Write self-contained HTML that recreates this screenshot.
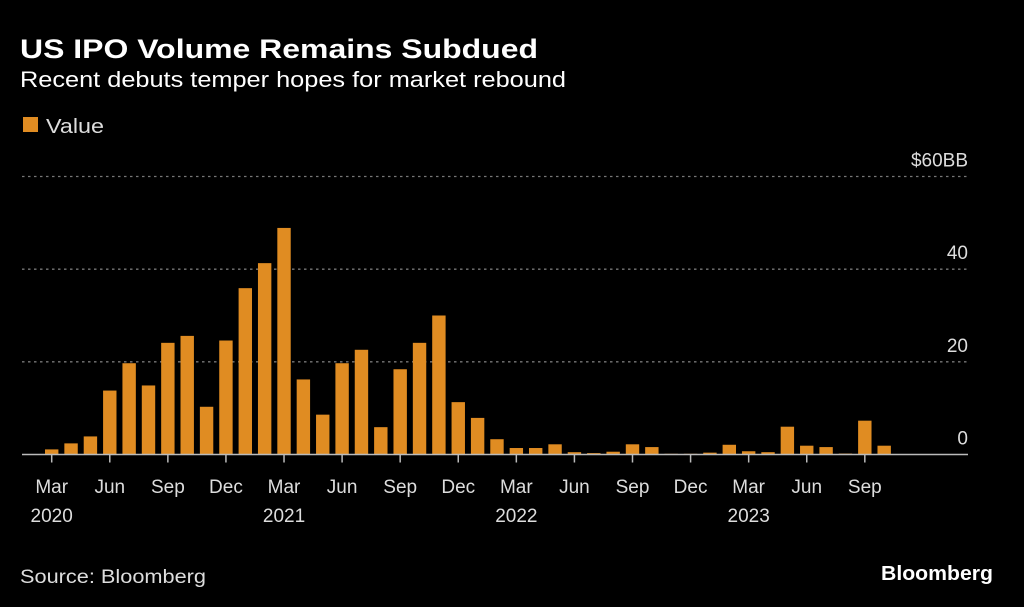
<!DOCTYPE html>
<html><head><meta charset="utf-8"><style>
html,body{margin:0;padding:0;background:#000;}
svg{display:block;font-family:"Liberation Sans",sans-serif;}
</style></head><body>
<svg id="chart" width="1024" height="607" viewBox="0 0 1024 607" xmlns="http://www.w3.org/2000/svg">
<rect width="1024" height="607" fill="#000"/>
<text x="20" y="58" fill="#fff" font-size="27" font-weight="bold" textLength="518" lengthAdjust="spacingAndGlyphs">US IPO Volume Remains Subdued</text>
<text x="20" y="87" fill="#fff" font-size="22" textLength="546" lengthAdjust="spacingAndGlyphs">Recent debuts temper hopes for market rebound</text>
<g>
<rect x="23" y="117" width="15" height="15" fill="#e08c22"/>
<text x="46" y="133" fill="#ddd" font-size="20" textLength="58" lengthAdjust="spacingAndGlyphs">Value</text>
</g>
<g id="grid"></g>
<g id="bars"></g>
<g id="xaxis"></g>
<text x="20" y="583" fill="#ddd" font-size="19" textLength="186" lengthAdjust="spacingAndGlyphs">Source: Bloomberg</text>
<text x="993" y="580" fill="#fff" font-size="20" font-weight="bold" text-anchor="end" textLength="112" lengthAdjust="spacingAndGlyphs">Bloomberg</text>
</svg>
<script>
const months = 44; // Mar 2020 .. Oct 2023
const values = [1.1,2.4,3.9,13.8,19.7,14.9,24.1,25.6,10.3,24.6,35.9,41.3,48.9,16.2,8.6,19.7,22.6,5.9,18.4,24.1,30.0,11.3,7.9,3.3,1.4,1.4,2.2,0.5,0.3,0.6,2.2,1.6,0.15,0.15,0.4,2.1,0.7,0.5,6.0,1.9,1.6,0.2,7.3,1.9];
const yTicks = [0,20,40,60];
const yTickLabels = ["0","20","40","$60BB"];
const xTickLabels = ["Mar","Jun","Sep","Dec","Mar","Jun","Sep","Dec","Mar","Jun","Sep","Dec","Mar","Jun","Sep"];
const yearLabels = ["2020","2021","2022","2023"];

const NS="http://www.w3.org/2000/svg";
const x0=51.7, step=19.36, barW=13.4;
const yBase=454.5, yTop=176.5, yMax=60;
function xPos(i){return x0+i*step;}
function yPos(v){return yBase-(v/yMax)*(yBase-yTop);}
function mk(tag,attrs,parent){const e=document.createElementNS(NS,tag);for(const k in attrs)e.setAttribute(k,attrs[k]);parent.appendChild(e);return e;}

const grid=document.getElementById('grid');
yTicks.forEach((t,i)=>{
  const y=yPos(t);
  if(t!==0){
    const l=mk('line',{x1:22,x2:968,y1:y,y2:y,stroke:'#777','stroke-width':1.3,'stroke-dasharray':'2.5,3.5'},grid);
    
    
  }
  const tx=mk('text',{x:968,y:y-10,fill:'#ddd','font-size':19,'text-anchor':'end'},grid);
  tx.textContent=yTickLabels[i];
  
  
});

const bars=document.getElementById('bars');
values.forEach((v,i)=>{
  const y=yPos(v);
  const r=mk('rect',{x:xPos(i)-barW/2,y:y,width:barW,height:Math.max(yBase-y,0.5),fill:'#e08c22'},bars);
  
  
});

const xa=document.getElementById('xaxis');
const ax=mk('line',{x1:22,x2:968,y1:yBase,y2:yBase,stroke:'#bbb','stroke-width':1.5},xa);


xTickLabels.forEach((lab,k)=>{
  const x=xPos(k*3);
  const t=mk('line',{x1:x,x2:x,y1:yBase,y2:yBase+8,stroke:'#bbb','stroke-width':1.5},xa);
  
  
  const tx=mk('text',{x:x,y:493,fill:'#ddd','font-size':19,'text-anchor':'middle'},xa);
  tx.textContent=lab;
  
  
});
yearLabels.forEach((yl,k)=>{
  const x=xPos(k*12);
  const tx=mk('text',{x:x,y:522,fill:'#ddd','font-size':19,'text-anchor':'middle'},xa);
  tx.textContent=yl;
  
  
});
</script>
</body></html>
